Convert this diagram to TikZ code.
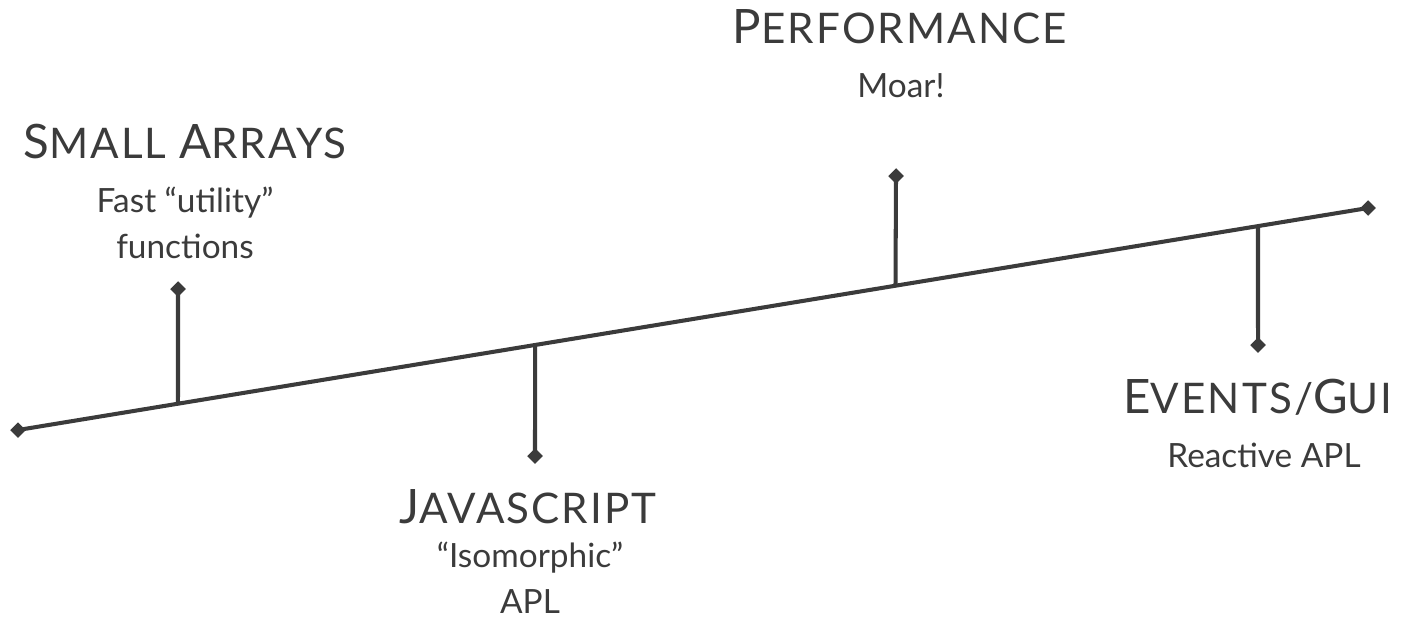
\documentclass[tikz,border=0pt]{standalone}
\usepackage{fontspec}
\usepackage{tikz}
\usetikzlibrary{calc,positioning,shapes.geometric}
\setmainfont{Lato}
\newfontfamily\capfont[LetterSpace=5]{Lato}
\definecolor{ink}{HTML}{3B3B3B}
\newcommand{\capword}[2]{{\fontsize{27}{30}\selectfont #1}#2}

\begin{document}
\begin{tikzpicture}[x=0.02cm,y=-0.02cm]
\tikzset{mark diamond/.style={ %
		diamond,
		inner sep=0pt,
		minimum size=9pt,
		fill=ink
	},
	title/.style={anchor=base,text=ink,inner sep=0pt,
		font=\capfont\fontsize{24}{28}\selectfont},
	sub/.style={anchor=base,text=ink,inner sep=0pt,align=center,
		font=\fontsize{19}{26}\selectfont}
}
\useasboundingbox (0,0) rectangle (1408,620);

% timeline
\node[mark diamond] (start) at (18,430) {};
\node[mark diamond] (stop) at (1368,208) {};
\draw[ink,line width=2.3pt] (start.center) -- (stop.center);

% stems
\coordinate (b1) at ($(start.center)!0.1185!(stop.center)$);
\coordinate (b2) at ($(start.center)!0.383!(stop.center)$);
\coordinate (b3) at ($(start.center)!0.650!(stop.center)$);
\coordinate (b4) at ($(start.center)!0.9185!(stop.center)$);

\node[mark diamond] (d1) at (178,289) {};
\node[mark diamond] (d2) at (535,456) {};
\node[mark diamond] (d3) at (896,176) {};
\node[mark diamond] (d4) at (1258,345) {};

\draw[ink,line width=2.3pt] (b1) -- (d1.center);
\draw[ink,line width=2.3pt] (b2) -- (d2.center);
\draw[ink,line width=2.3pt] (b3) -- (d3.center);
\draw[ink,line width=2.3pt] (b4) -- (d4.center);

% labels (two-line nodes sit on their last baseline)
\node[title] (arrays) at (185,158) {\capword{S}{MALL} \capword{A}{RRAYS}};
\node[sub] (arrayssub) at (185,258) {Fast “utility”\\functions};

\node[title] (perf) at (900,43) {\capword{P}{ERFORMANCE}};
\node[sub] (perfsub) at (901,97) {Moar!};

\node[title] (js) at (528,523) {\capword{J}{AVASCRIPT}};
\node[sub] (jssub) at (530,613) {“Isomorphic”\\APL};

\node[title] (gui) at (1258,413) {\capword{E}{VENTS/}\capword{G}{UI}};
\node[sub] (guisub) at (1264,467) {Reactive APL};

\end{tikzpicture}
\end{document}
